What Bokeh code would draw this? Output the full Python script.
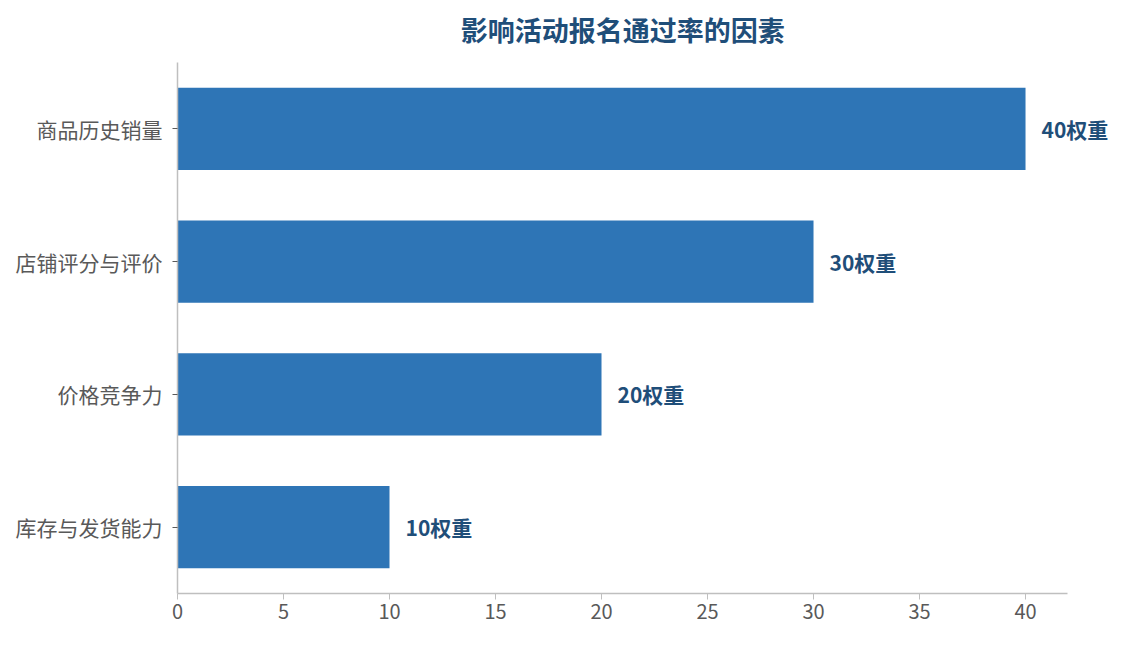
from bokeh.plotting import figure
from bokeh.models import ColumnDataSource, Range1d, LabelSet, Label, FixedTicker
from bokeh.core.properties import value
from bokeh.embed import file_html
from bokeh.resources import INLINE

title = "影响活动报名通过率的因素"
categories = ["库存与发货能力", "价格竞争力", "店铺评分与评价", "商品历史销量"]
weights = [10, 20, 30, 40]
labels = [f"{w}权重" for w in weights]
x_ticks = [0, 5, 10, 15, 20, 25, 30, 35, 40]

FONT = "Noto Sans CJK SC"
BAR = "#2e75b6"
DARK = "#1f4e79"
GRAY = "#595959"

cat_pos = list(range(len(categories)))
src = ColumnDataSource(dict(y=cat_pos, w=weights, lab=labels))

X_END = 42
p = figure(width=1122, height=637, output_backend="svg", toolbar_location=None,
           y_range=Range1d(-0.5, 3.967),
           x_range=Range1d(0, 44.48),
           min_border_left=177, min_border_right=2, min_border_top=0, min_border_bottom=44)

p.hbar(y="y", right="w", left=0, height=0.62, source=src, color=BAR, line_color=None)
p.add_layout(LabelSet(x="w", y="y", text="lab", source=src, x_offset=16,
                      text_baseline="middle", text_align="left", text_font=value(FONT),
                      text_font_size="21px", text_font_style="bold", text_color=DARK))

p.add_layout(Label(x=X_END / 2, y=3.749, text=title, text_align="center",
                   text_baseline="middle", text_font=FONT, text_font_size="27px",
                   text_font_style="bold", text_color=DARK))

p.xgrid.visible = False
p.ygrid.visible = False
p.outline_line_color = None

p.xaxis.ticker = x_ticks
p.xaxis.bounds = (0, X_END)
p.xaxis.axis_line_color = "#bfbfbf"
p.xaxis.axis_line_width = 1.5
p.xaxis.major_tick_line_color = "#bfbfbf"
p.xaxis.major_tick_out = 6
p.xaxis.major_tick_in = 0
p.xaxis.minor_tick_line_color = None
p.xaxis.major_label_text_font = FONT
p.xaxis.major_label_text_font_size = "20px"
p.xaxis.major_label_text_color = GRAY
p.xaxis.major_label_standoff = 4

overrides = {}
for i, c in zip(cat_pos, categories):
    overrides[i] = c
    overrides[str(i)] = c
p.yaxis.ticker = FixedTicker(ticks=cat_pos)
p.yaxis.major_label_overrides = overrides
p.yaxis.bounds = (-0.5, 3.5)
p.yaxis.minor_tick_line_color = None
p.yaxis.axis_line_color = "#bfbfbf"
p.yaxis.axis_line_width = 1.5
p.yaxis.major_tick_line_color = GRAY
p.yaxis.major_tick_out = 5
p.yaxis.major_tick_in = 0
p.yaxis.major_label_text_font = FONT
p.yaxis.major_label_text_font_size = "21px"
p.yaxis.major_label_text_color = GRAY
p.yaxis.major_label_standoff = 10

open("out.html", "w").write(file_html(p, INLINE))
